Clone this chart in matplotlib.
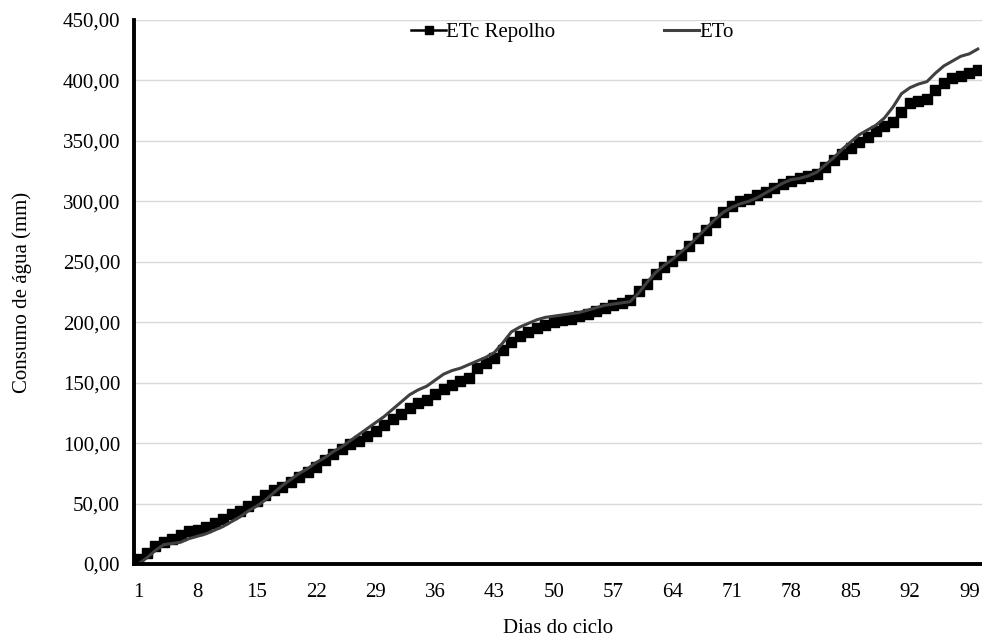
import matplotlib
matplotlib.use("Agg")
import matplotlib.pyplot as plt
from matplotlib.ticker import FuncFormatter

days = list(range(1, 101))

etc_repolho = [4, 9, 15, 18, 21, 24, 27, 28, 31, 34,
               37, 41, 44, 48, 52, 57, 61, 64, 68, 72,
               76, 80, 86, 91, 95, 99, 102, 106, 110, 115,
               120, 124, 129, 133, 136, 141, 145, 148, 151, 154,
               162, 166, 170, 177, 184, 189, 192, 195, 198, 200,
               202, 203, 205, 207, 209, 212, 214, 216, 218, 226,
               232, 240, 246, 251, 256, 263, 270, 276, 283, 291,
               296, 300, 302, 305, 308, 311, 314, 317, 319, 321,
               323, 328, 334, 339, 344, 349, 353, 358, 362, 366,
               374, 381, 383, 385, 392, 398, 402, 404, 406, 409]

eto = [0, 5, 11, 16, 17, 18, 21, 23, 25, 28,
       31, 35, 39, 44, 48, 53, 59, 65, 70, 75,
       79, 84, 88, 93, 97, 102, 107, 112, 117, 122,
       128, 134, 140, 144, 147, 152, 157, 160, 162, 165,
       168, 171, 175, 183, 192, 196, 199, 202, 204, 205,
       206, 207, 208, 210, 212, 214, 215, 216, 217, 224,
       233, 241, 247, 252, 258, 264, 271, 278, 285, 291,
       295, 298, 300, 303, 307, 311, 315, 318, 319, 321,
       324, 330, 336, 343, 349, 355, 359, 363, 369, 378,
       389, 394, 397, 399, 406, 412, 416, 420, 422, 426]

x_ticks = list(range(1, 100, 7))
y_ticks = list(range(0, 451, 50))

plt.rcParams['font.family'] = ['Liberation Serif', 'DejaVu Serif']
FS = 15

fig = plt.figure(figsize=(9.82, 6.39), dpi=100)
ax = fig.add_axes([134/982, 1-564/639, (982-134)/982, (564-20)/639])

ax.plot(days, etc_repolho, color='black', lw=1.8, marker='s', markersize=7,
        label='ETc Repolho', zorder=3, clip_on=False)
ax.plot(days, eto, color='#404040', lw=2.2, label='ETo', zorder=4)

ax.set_xlim(0.5, 100.5)
ax.set_ylim(0, 450)
ax.set_xticks(x_ticks)
ax.set_yticks(y_ticks)
ax.yaxis.set_major_formatter(FuncFormatter(lambda v, p: f"{v:.2f}".replace('.', ',')))
ax.tick_params(axis='both', length=0, labelsize=FS, colors='black')
ax.tick_params(axis='x', pad=14)
ax.tick_params(axis='y', pad=10)

ax.grid(axis='y', color='#d9d9d9', lw=1.0, zorder=0)
ax.set_axisbelow(True)
for s in ['top', 'right']:
    ax.spines[s].set_visible(False)
for s in ['left', 'bottom']:
    ax.spines[s].set_linewidth(2.8)
    ax.spines[s].set_color('black')
    ax.spines[s].set_zorder(5)

ax.set_xlabel('Dias do ciclo', fontsize=FS, labelpad=12)
ax.set_ylabel('Consumo de água (mm)', fontsize=FS, labelpad=22)

leg = ax.legend(loc='upper center', bbox_to_anchor=(0.517, 1.03), ncol=2,
                frameon=False, fontsize=FS, columnspacing=5.2,
                handlelength=1.7, handletextpad=0.0, markerscale=0.85)

fig.savefig('out.png', dpi=100)
